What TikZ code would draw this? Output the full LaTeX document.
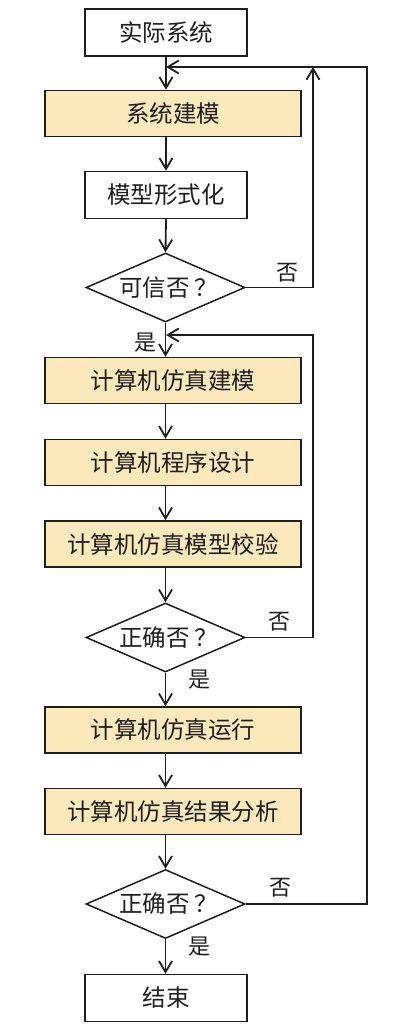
\documentclass[tikz,border=0pt]{standalone}
\usepackage{fontspec}
\newfontfamily\cjk{Noto Sans CJK SC}
\usetikzlibrary{shapes.geometric,arrows.meta,calc}
\definecolor{boxfill}{HTML}{FBE9BC}
\definecolor{ink}{HTML}{1E1E1E}
\newcommand{\qm}{\hspace{5pt}？}
\begin{document}
\begin{tikzpicture}[x=1pt,y=1pt,
  every node/.style={font=\cjk\fontsize{23.5}{27}\selectfont, text=ink},
  plainbox/.style={draw=ink, line width=1.5pt, fill=white, minimum width=162pt, minimum height=47pt, inner sep=0pt},
  fillbox/.style={draw=ink, line width=1.5pt, fill=boxfill, minimum width=256pt, minimum height=46pt, inner sep=0pt},
  decide/.style={draw=ink, line width=1.5pt, diamond, aspect=2.3, minimum width=159pt, minimum height=69pt, inner sep=0pt},
  lbl/.style={font=\cjk\fontsize{22}{25}\selectfont},
  arr/.style={draw=ink, line width=1.8pt, -{Straight Barb[length=11pt,width=13pt,line width=1.8pt]}},
  ln/.style={draw=ink, line width=1.8pt}]
\useasboundingbox (0,0) rectangle (410,-1030);
\node[plainbox] (real) at (166,-32.5) {实际系统};
\node[fillbox] (m1) at (173,-113.5) {系统建模};
\node[plainbox] (form) at (166,-195) {模型形式化};
\node[decide] (d1) at (165.5,-287.5) {\hspace{6pt}可信否\qm};
\node[fillbox] (sim) at (173,-380.5) {计算机仿真建模};
\node[fillbox] (prog) at (173,-462.5) {计算机程序设计};
\node[fillbox] (chk) at (173,-544) {计算机仿真模型校验};
\node[decide] (d2) at (165.5,-637.5) {\hspace{6pt}正确否\qm};
\node[fillbox] (run) at (173,-730) {计算机仿真运行};
\node[fillbox] (ana) at (173,-811.5) {计算机仿真结果分析};
\node[decide] (d3) at (165.5,-904) {\hspace{6pt}正确否\qm};
\node[plainbox] (fin) at (166,-998) {结束};

\coordinate (j1) at (166,-67);
\coordinate (j2) at (166,-335);
\coordinate (c1) at (313,-67);
\coordinate (c2) at (313,-335);
\coordinate (c3) at (367,-67);

\draw[arr] (real.south) -- (real.south |- m1.north);
\draw[arr] (m1.south -| real.south) -- (form.north);
\draw[arr] (form.south) -- (d1.north);
\draw[arr] (d1.south) -- (d1.south |- sim.north);
\draw[arr] (sim.south -| d1.south) -- (d1.south |- prog.north);
\draw[arr] (prog.south -| d1.south) -- (d1.south |- chk.north);
\draw[arr] (chk.south -| d1.south) -- (d2.north);
\draw[arr] (d2.south) -- (d2.south |- run.north);
\draw[arr] (run.south -| d2.south) -- (d2.south |- ana.north);
\draw[arr] (ana.south -| d2.south) -- (d3.north);
\draw[arr] (d3.south) -- (d3.south |- fin.north);

\draw[arr] (d1.east) -| (c1);
\draw[arr] (d2.east) -| (c2) -- (j2);
\draw[arr] (d3.east) -| (c3) -- (j1);

\node[lbl] (n1) at (287,-273) {否};
\node[lbl] (y1) at (145,-343) {是};
\node[lbl] (n2) at (279,-622) {否};
\node[lbl] (y2) at (199,-680) {是};
\node[lbl] (n3) at (280,-888) {否};
\node[lbl] (y3) at (199,-947) {是};
\end{tikzpicture}
\end{document}
